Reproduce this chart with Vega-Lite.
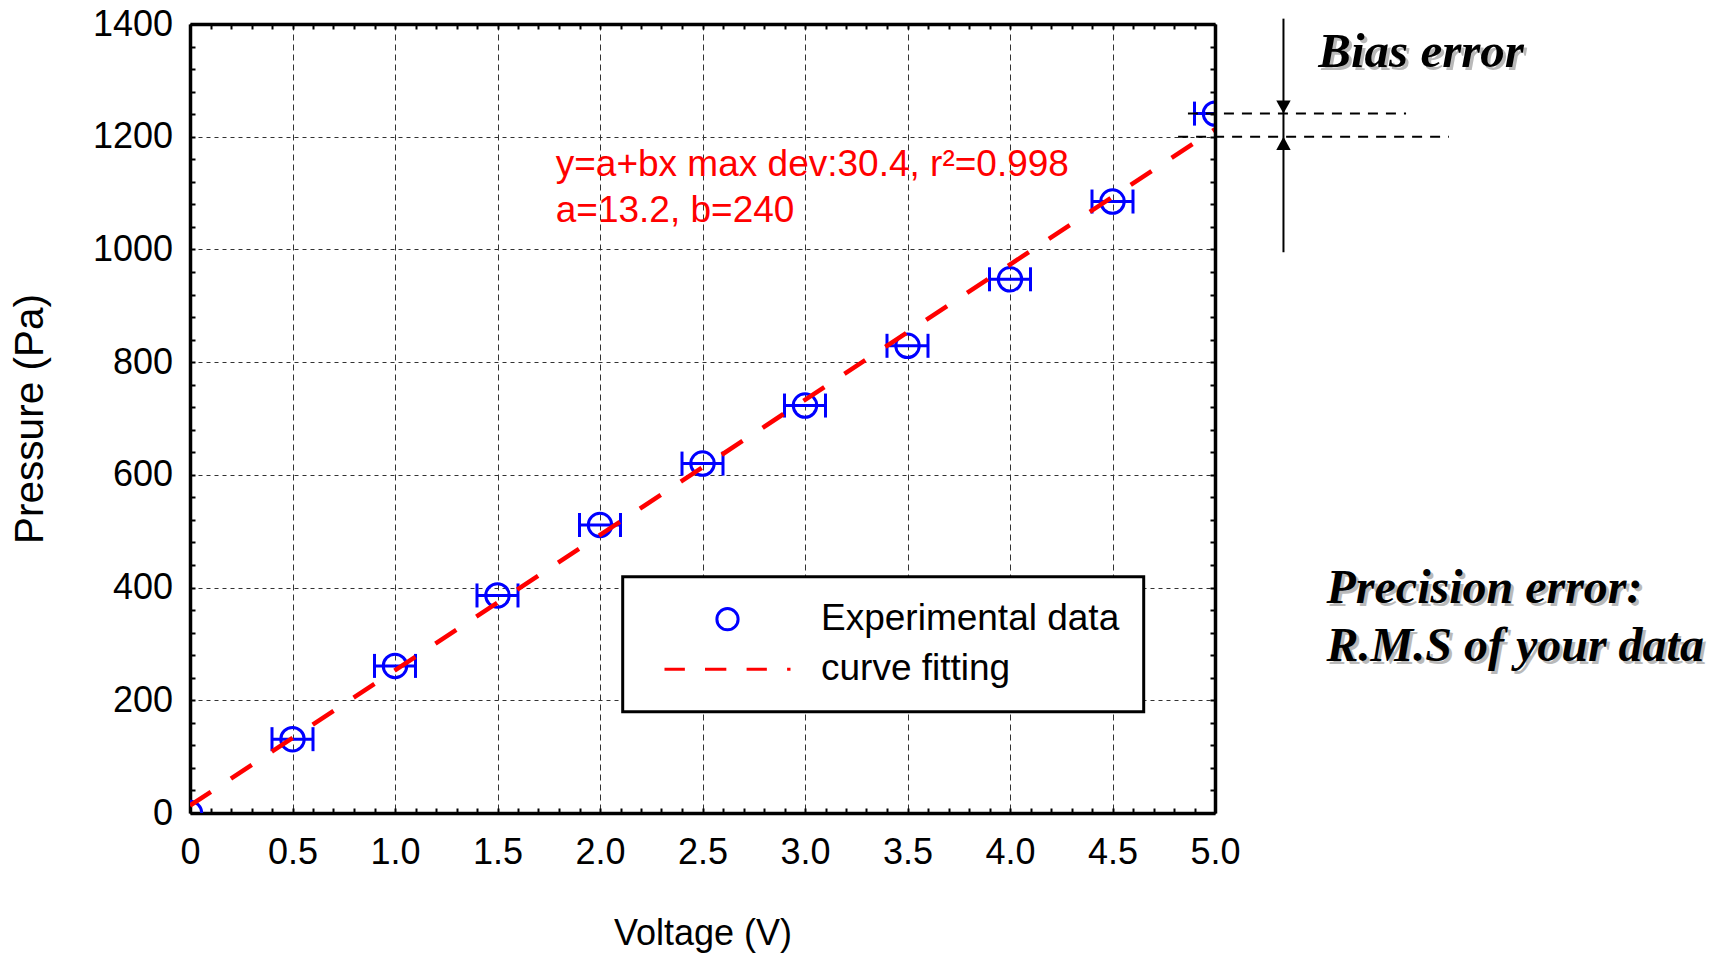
{
  "$schema": "https://vega.github.io/schema/vega-lite/v6.json",
  "autosize": {"type": "none"},
  "padding": {"left": 190, "top": 24, "right": 500, "bottom": 143},
  "width": 1025,
  "height": 789,
  "background": "white",
  "config": {
    "view": {"stroke": null},
    "font": "Liberation Sans",
    "legend": {"strokeWidth": 3}
  },
  "resolve": {"axis": {"x": "independent", "y": "independent"}},
  "layer": [
    {
      "data": {"values": [
        {"v": 0.5, "p": 131, "lo": 0.4, "hi": 0.6},
        {"v": 1.0, "p": 261, "lo": 0.9, "hi": 1.1},
        {"v": 1.5, "p": 386, "lo": 1.4, "hi": 1.6},
        {"v": 2.0, "p": 511, "lo": 1.9, "hi": 2.1},
        {"v": 2.5, "p": 620, "lo": 2.4, "hi": 2.6},
        {"v": 3.0, "p": 723, "lo": 2.9, "hi": 3.1},
        {"v": 3.5, "p": 829, "lo": 3.4, "hi": 3.6},
        {"v": 4.0, "p": 947, "lo": 3.9, "hi": 4.1},
        {"v": 4.5, "p": 1085, "lo": 4.4, "hi": 4.6},
        {"v": 5.0, "p": 1241, "lo": 4.9, "hi": 5.1}
      ]},
      "mark": {"type": "rule", "color": "#0000ff", "strokeWidth": 3, "clip": true},
      "encoding": {
        "x": {"field": "lo", "type": "quantitative", "scale": {"domain": [0, 5], "nice": false, "zero": false},
          "axis": {"orient": "top", "values": [0,0.1,0.2,0.3,0.4,0.5,0.6,0.7,0.8,0.9,1.0,1.1,1.2,1.3,1.4,1.5,1.6,1.7,1.8,1.9,2.0,2.1,2.2,2.3,2.4,2.5,2.6,2.7,2.8,2.9,3.0,3.1,3.2,3.3,3.4,3.5,3.6,3.7,3.8,3.9,4.0,4.1,4.2,4.3,4.4,4.5,4.6,4.7,4.8,4.9,5.0],
            "labels": false, "grid": false, "ticks": true, "tickSize": -5, "tickWidth": 2, "tickColor": "black",
            "domain": true, "domainWidth": 3.5, "domainColor": "black", "title": null, "zindex": 1}},
        "x2": {"field": "hi"},
        "y": {"field": "p", "type": "quantitative", "scale": {"domain": [0, 1400], "nice": false, "zero": false},
          "axis": {"orient": "right", "values": [0,40,80,120,160,200,240,280,320,360,400,440,480,520,560,600,640,680,720,760,800,840,880,920,960,1000,1040,1080,1120,1160,1200,1240,1280,1320,1360,1400],
            "labels": false, "grid": false, "ticks": true, "tickSize": -5, "tickWidth": 2, "tickColor": "black",
            "domain": true, "domainWidth": 3.5, "domainColor": "black", "title": null, "zindex": 1}}
      }
    },
    {
      "data": {"values": [
        {"v": 0.5, "p": 131, "lo": 0.4, "hi": 0.6},
        {"v": 1.0, "p": 261, "lo": 0.9, "hi": 1.1},
        {"v": 1.5, "p": 386, "lo": 1.4, "hi": 1.6},
        {"v": 2.0, "p": 511, "lo": 1.9, "hi": 2.1},
        {"v": 2.5, "p": 620, "lo": 2.4, "hi": 2.6},
        {"v": 3.0, "p": 723, "lo": 2.9, "hi": 3.1},
        {"v": 3.5, "p": 829, "lo": 3.4, "hi": 3.6},
        {"v": 4.0, "p": 947, "lo": 3.9, "hi": 4.1},
        {"v": 4.5, "p": 1085, "lo": 4.4, "hi": 4.6},
        {"v": 5.0, "p": 1241, "lo": 4.9, "hi": 5.1}
      ]},
      "layer": [
        {
          "mark": {"type": "tick", "orient": "vertical", "color": "#0000ff", "size": 24, "thickness": 3, "opacity": 1, "clip": true},
          "encoding": {
            "x": {"field": "lo", "type": "quantitative", "scale": {"domain": [0, 5], "nice": false, "zero": false}, "axis": null},
            "y": {"field": "p", "type": "quantitative", "scale": {"domain": [0, 1400], "nice": false, "zero": false}, "axis": null}
          }
        },
        {
          "mark": {"type": "tick", "orient": "vertical", "color": "#0000ff", "size": 24, "thickness": 3, "opacity": 1, "clip": true},
          "encoding": {
            "x": {"field": "hi", "type": "quantitative", "scale": {"domain": [0, 5], "nice": false, "zero": false}, "axis": null},
            "y": {"field": "p", "type": "quantitative", "scale": {"domain": [0, 1400], "nice": false, "zero": false}, "axis": null}
          }
        }
      ]
    },
    {
      "data": {"values": [
        {"v": 0, "p": 0, "series": "Experimental data"},
        {"v": 0.5, "p": 131, "series": "Experimental data"},
        {"v": 1.0, "p": 261, "series": "Experimental data"},
        {"v": 1.5, "p": 386, "series": "Experimental data"},
        {"v": 2.0, "p": 511, "series": "Experimental data"},
        {"v": 2.5, "p": 620, "series": "Experimental data"},
        {"v": 3.0, "p": 723, "series": "Experimental data"},
        {"v": 3.5, "p": 829, "series": "Experimental data"},
        {"v": 4.0, "p": 947, "series": "Experimental data"},
        {"v": 4.5, "p": 1085, "series": "Experimental data"},
        {"v": 5.0, "p": 1241, "series": "Experimental data"}
      ]},
      "mark": {"type": "point", "filled": false, "size": 550, "strokeWidth": 3, "opacity": 1, "clip": true},
      "encoding": {
        "x": {"field": "v", "type": "quantitative", "scale": {"domain": [0, 5], "nice": false, "zero": false},
          "axis": {"orient": "bottom",
            "values": [0,0.1,0.2,0.3,0.4,0.5,0.6,0.7,0.8,0.9,1.0,1.1,1.2,1.3,1.4,1.5,1.6,1.7,1.8,1.9,2.0,2.1,2.2,2.3,2.4,2.5,2.6,2.7,2.8,2.9,3.0,3.1,3.2,3.3,3.4,3.5,3.6,3.7,3.8,3.9,4.0,4.1,4.2,4.3,4.4,4.5,4.6,4.7,4.8,4.9,5.0],
            "labelExpr": "abs(datum.value*2 - round(datum.value*2)) < 0.001 ? (datum.value == 0 ? '0' : format(datum.value, '.1f')) : ''",
            "labelOverlap": false, "labelFlush": false,
            "labelFont": "Liberation Sans", "labelFontSize": 36, "labelColor": "black", "labelPadding": 27,
            "grid": true, "gridColor": "#333333", "gridWidth": 1, "gridDash": [6, 4],
            "gridOpacity": {"condition": {"test": "abs(datum.value*2 - round(datum.value*2)) < 0.001", "value": 1}, "value": 0},
            "ticks": true, "tickSize": -5, "tickWidth": 2, "tickColor": "black",
            "domain": true, "domainWidth": 3.5, "domainColor": "black",
            "title": "Voltage (V)", "titleFont": "Liberation Sans", "titleFontSize": 36, "titleFontWeight": "normal", "titleColor": "black", "titlePadding": 46}},
        "y": {"field": "p", "type": "quantitative", "scale": {"domain": [0, 1400], "nice": false, "zero": false},
          "axis": {"orient": "left",
            "values": [0,40,80,120,160,200,240,280,320,360,400,440,480,520,560,600,640,680,720,760,800,840,880,920,960,1000,1040,1080,1120,1160,1200,1240,1280,1320,1360,1400],
            "labelExpr": "datum.value % 200 == 0 ? format(datum.value, 'd') : ''",
            "labelOverlap": false, "labelFlush": false,
            "labelFont": "Liberation Sans", "labelFontSize": 36, "labelColor": "black", "labelPadding": 22.5,
            "grid": true, "gridColor": "#333333", "gridWidth": 1, "gridDash": [4, 4],
            "gridOpacity": {"condition": {"test": "datum.value % 200 == 0", "value": 1}, "value": 0},
            "ticks": true, "tickSize": -5, "tickWidth": 2, "tickColor": "black",
            "domain": true, "domainWidth": 3.5, "domainColor": "black",
            "title": "Pressure (Pa)", "titleFont": "Liberation Sans", "titleFontSize": 40.5, "titleFontWeight": "normal", "titleColor": "black", "titlePadding": 41}},
        "color": {"field": "series", "type": "nominal",
          "scale": {"domain": ["Experimental data", "curve fitting"], "range": ["#0000ff", "#ff0000"]},
          "legend": {"title": null, "orient": "none", "legendX": 432.7, "legendY": 552.7, "padding": 24,
            "fillColor": "white", "strokeColor": "black",
            "labelFont": "Liberation Sans", "labelFontSize": 37, "labelColor": "black", "labelLimit": 500,
            "symbolSize": 450, "symbolStrokeWidth": 3, "symbolOffset": 62.3, "labelOffset": 75, "rowPadding": 12,
            "encode": {"legend": {"update": {"strokeWidth": {"value": 3}}},
              "symbols": {"update": {"strokeWidth": {"signal": "datum.value === 'curve fitting' ? 4.5 : 3"}}}}}},
        "shape": {"field": "series", "type": "nominal",
          "scale": {"domain": ["Experimental data", "curve fitting"], "range": ["circle", "M-5.94,0L-4.02,0M-2.12,0L-0.11,0M1.8,0L3.71,0M5.62,0L5.94,0"]},
          "legend": {"title": null, "orient": "none", "legendX": 432.7, "legendY": 552.7, "padding": 24,
            "fillColor": "white", "strokeColor": "black",
            "labelFont": "Liberation Sans", "labelFontSize": 37, "labelColor": "black", "labelLimit": 500,
            "symbolSize": 450, "symbolStrokeWidth": 3, "symbolOffset": 62.3, "labelOffset": 75, "rowPadding": 12,
            "encode": {"legend": {"update": {"strokeWidth": {"value": 3}}},
              "symbols": {"update": {"strokeWidth": {"signal": "datum.value === 'curve fitting' ? 4.5 : 3"}}}}}}
      }
    },
    {
      "data": {"values": [{"v": 0, "p": 13.2}, {"v": 5, "p": 1213.2}]},
      "mark": {"type": "line", "color": "#ff0000", "strokeWidth": 4.5, "strokeDash": [25, 24], "clip": true},
      "encoding": {
        "x": {"field": "v", "type": "quantitative", "scale": {"domain": [0, 5], "nice": false, "zero": false}, "axis": null},
        "y": {"field": "p", "type": "quantitative", "scale": {"domain": [0, 1400], "nice": false, "zero": false}, "axis": null}
      }
    },
    {
      "data": {"values": [{"v": 5.334, "p": 1409.5, "p2": 995}]},
      "mark": {"type": "rule", "color": "black", "strokeWidth": 2},
      "encoding": {
        "x": {"field": "v", "type": "quantitative", "scale": {"domain": [0, 5], "nice": false, "zero": false}, "axis": null},
        "y": {"field": "p", "type": "quantitative", "scale": {"domain": [0, 1400], "nice": false, "zero": false}, "axis": null},
        "y2": {"field": "p2"}
      }
    },
    {
      "data": {"values": [{"v": 4.868, "v2": 5.932, "p": 1241}, {"v": 4.82, "v2": 6.141, "p": 1200}]},
      "mark": {"type": "rule", "color": "black", "strokeWidth": 2, "strokeDash": [10, 8]},
      "encoding": {
        "x": {"field": "v", "type": "quantitative", "scale": {"domain": [0, 5], "nice": false, "zero": false}, "axis": null},
        "x2": {"field": "v2"},
        "y": {"field": "p", "type": "quantitative", "scale": {"domain": [0, 1400], "nice": false, "zero": false}, "axis": null}
      }
    },
    {
      "data": {"values": [{"v": 5.334, "p": 1241}]},
      "mark": {"type": "point", "shape": "M0,0L-0.6,-1.1L0.6,-1.1Z", "size": 576, "filled": true, "color": "black", "opacity": 1, "strokeWidth": 0},
      "encoding": {
        "x": {"field": "v", "type": "quantitative", "scale": {"domain": [0, 5], "nice": false, "zero": false}, "axis": null},
        "y": {"field": "p", "type": "quantitative", "scale": {"domain": [0, 1400], "nice": false, "zero": false}, "axis": null}
      }
    },
    {
      "data": {"values": [{"v": 5.334, "p": 1200}]},
      "mark": {"type": "point", "shape": "M0,0L-0.6,1.1L0.6,1.1Z", "size": 576, "filled": true, "color": "black", "opacity": 1, "strokeWidth": 0},
      "encoding": {
        "x": {"field": "v", "type": "quantitative", "scale": {"domain": [0, 5], "nice": false, "zero": false}, "axis": null},
        "y": {"field": "p", "type": "quantitative", "scale": {"domain": [0, 1400], "nice": false, "zero": false}, "axis": null}
      }
    },
    {
      "data": {"values": [
        {"v": 1.784, "p": 1130.2, "t": "y=a+bx max dev:30.4, r²=0.998"},
        {"v": 1.784, "p": 1048.6, "t": "a=13.2, b=240"}
      ]},
      "mark": {"type": "text", "align": "left", "baseline": "alphabetic", "font": "Liberation Sans", "fontSize": 37, "color": "#ff0000"},
      "encoding": {
        "x": {"field": "v", "type": "quantitative", "scale": {"domain": [0, 5], "nice": false, "zero": false}, "axis": null},
        "y": {"field": "p", "type": "quantitative", "scale": {"domain": [0, 1400], "nice": false, "zero": false}, "axis": null},
        "text": {"field": "t"}
      }
    },
    {
      "data": {"values": [
        {"v": 5.504, "p": 1324.2, "t": "Bias error", "fs": "b"},
        {"v": 5.544, "p": 372.6, "t": "Precision error:", "fs": "p"},
        {"v": 5.544, "p": 269.7, "t": "R.M.S of your data", "fs": "p"}
      ]},
      "layer": [
        {
          "mark": {"type": "text", "align": "left", "baseline": "alphabetic", "font": "Liberation Serif", "fontStyle": "italic", "fontWeight": "bold", "color": "#8c8c8c", "opacity": 0.6, "dx": 3, "dy": 3},
          "encoding": {
            "x": {"field": "v", "type": "quantitative", "scale": {"domain": [0, 5], "nice": false, "zero": false}, "axis": null},
            "y": {"field": "p", "type": "quantitative", "scale": {"domain": [0, 1400], "nice": false, "zero": false}, "axis": null},
            "text": {"field": "t"},
            "size": {"field": "fs", "type": "nominal", "scale": {"domain": ["b", "p"], "range": [49, 48]}, "legend": null}
          }
        },
        {
          "mark": {"type": "text", "align": "left", "baseline": "alphabetic", "font": "Liberation Serif", "fontStyle": "italic", "fontWeight": "bold", "color": "black"},
          "encoding": {
            "x": {"field": "v", "type": "quantitative", "scale": {"domain": [0, 5], "nice": false, "zero": false}, "axis": null},
            "y": {"field": "p", "type": "quantitative", "scale": {"domain": [0, 1400], "nice": false, "zero": false}, "axis": null},
            "text": {"field": "t"},
            "size": {"field": "fs", "type": "nominal", "scale": {"domain": ["b", "p"], "range": [49, 48]}, "legend": null}
          }
        }
      ]
    }
  ]
}
